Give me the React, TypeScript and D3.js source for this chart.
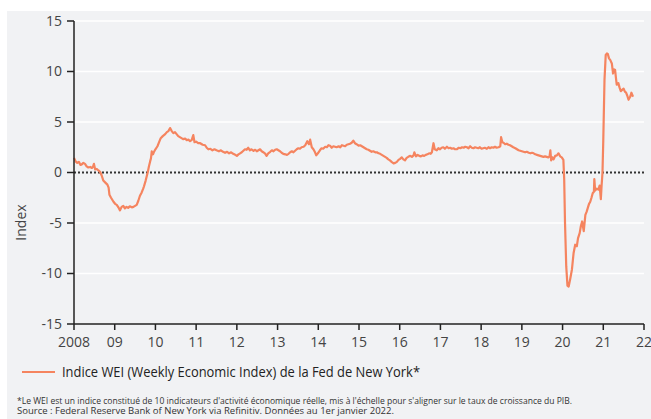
import React from "react";
import * as d3 from "d3";

const weeks: number[] = [
  2008.00, 2008.04, 2008.08, 2008.12, 2008.16, 2008.19, 2008.23, 2008.27, 2008.31, 2008.35,
  2008.40, 2008.44, 2008.47, 2008.49, 2008.52, 2008.56, 2008.60, 2008.64, 2008.68, 2008.72,
  2008.77, 2008.82, 2008.85, 2008.87, 2008.91, 2008.94, 2008.97, 2009.01, 2009.05, 2009.09,
  2009.13, 2009.17, 2009.21, 2009.25, 2009.29, 2009.33, 2009.37, 2009.42, 2009.46, 2009.50,
  2009.54, 2009.58, 2009.62, 2009.66, 2009.70, 2009.72, 2009.76, 2009.81, 2009.84, 2009.87,
  2009.89, 2009.91, 2009.94, 2009.96, 2010.00, 2010.05, 2010.09, 2010.13, 2010.18, 2010.24,
  2010.28, 2010.32, 2010.36, 2010.40, 2010.44, 2010.48, 2010.52, 2010.56, 2010.60, 2010.64,
  2010.68, 2010.73, 2010.77, 2010.81, 2010.85, 2010.89, 2010.93, 2010.96, 2011.00, 2011.05,
  2011.10, 2011.16, 2011.22, 2011.26, 2011.30, 2011.35, 2011.40, 2011.45, 2011.50, 2011.56,
  2011.61, 2011.66, 2011.71, 2011.76, 2011.81, 2011.86, 2011.91, 2011.96, 2012.00, 2012.04,
  2012.08, 2012.12, 2012.16, 2012.20, 2012.24, 2012.28, 2012.32, 2012.36, 2012.41, 2012.45,
  2012.49, 2012.53, 2012.57, 2012.61, 2012.65, 2012.69, 2012.73, 2012.77, 2012.82, 2012.86,
  2012.90, 2012.94, 2012.98, 2013.02, 2013.06, 2013.10, 2013.14, 2013.19, 2013.23, 2013.27,
  2013.31, 2013.35, 2013.39, 2013.43, 2013.47, 2013.51, 2013.55, 2013.59, 2013.64, 2013.68,
  2013.73, 2013.77, 2013.80, 2013.84, 2013.88, 2013.92, 2013.95, 2013.99, 2014.04, 2014.08,
  2014.12, 2014.17, 2014.21, 2014.25, 2014.29, 2014.33, 2014.37, 2014.41, 2014.45, 2014.50,
  2014.54, 2014.58, 2014.62, 2014.66, 2014.70, 2014.74, 2014.78, 2014.82, 2014.86, 2014.90,
  2014.94, 2014.99, 2015.03, 2015.07, 2015.11, 2015.15, 2015.19, 2015.23, 2015.27, 2015.31,
  2015.35, 2015.40, 2015.44, 2015.48, 2015.52, 2015.56, 2015.60, 2015.64, 2015.68, 2015.72,
  2015.76, 2015.80, 2015.85, 2015.89, 2015.93, 2015.97, 2016.01, 2016.05, 2016.09, 2016.13,
  2016.17, 2016.21, 2016.26, 2016.30, 2016.34, 2016.36, 2016.40, 2016.44, 2016.48, 2016.52,
  2016.56, 2016.60, 2016.64, 2016.68, 2016.72, 2016.76, 2016.79, 2016.83, 2016.86, 2016.91,
  2016.95, 2016.99, 2017.03, 2017.07, 2017.11, 2017.16, 2017.20, 2017.24, 2017.28, 2017.32,
  2017.36, 2017.40, 2017.45, 2017.49, 2017.53, 2017.57, 2017.61, 2017.65, 2017.69, 2017.73,
  2017.77, 2017.81, 2017.85, 2017.89, 2017.93, 2017.97, 2018.01, 2018.05, 2018.09, 2018.14,
  2018.18, 2018.22, 2018.26, 2018.30, 2018.34, 2018.38, 2018.43, 2018.47, 2018.49, 2018.52,
  2018.55, 2018.59, 2018.63, 2018.67, 2018.71, 2018.75, 2018.79, 2018.84, 2018.88, 2018.92,
  2018.96, 2019.00, 2019.04, 2019.08, 2019.12, 2019.17, 2019.21, 2019.25, 2019.29, 2019.33,
  2019.37, 2019.41, 2019.45, 2019.49, 2019.53, 2019.57, 2019.61, 2019.65, 2019.68, 2019.70,
  2019.72, 2019.75, 2019.78, 2019.82, 2019.86, 2019.90, 2019.94, 2019.98, 2020.02, 2020.04,
  2020.06, 2020.09, 2020.12, 2020.15, 2020.19, 2020.23, 2020.27, 2020.31, 2020.35, 2020.38,
  2020.42, 2020.45, 2020.48, 2020.52, 2020.56, 2020.59, 2020.62, 2020.65, 2020.68, 2020.71,
  2020.74, 2020.77, 2020.78, 2020.80, 2020.84, 2020.88, 2020.91, 2020.94, 2020.96, 2020.98,
  2021.00, 2021.03, 2021.06, 2021.09, 2021.11, 2021.14, 2021.17, 2021.21, 2021.24, 2021.27,
  2021.29, 2021.31, 2021.33, 2021.37, 2021.40, 2021.43, 2021.47, 2021.50, 2021.53, 2021.56,
  2021.59, 2021.62, 2021.66, 2021.69, 2021.73,
];

const wei: number[] = [
  1.45, 1.1, 0.95, 1.05, 0.75, 0.8, 0.95, 0.85, 0.6, 0.5,
  0.55, 0.45, 0.6, 0.85, 0.3, 0.35, 0.2, 0.07, -0.3, -0.8,
  -1.0, -1.2, -1.5, -2.2, -2.5, -2.7, -2.9, -3.1, -3.2, -3.45,
  -3.75, -3.4, -3.3, -3.55, -3.4, -3.5, -3.35, -3.45, -3.4, -3.3,
  -3.2, -2.8, -2.3, -2.0, -1.6, -1.36, -0.8, 0.0, 0.6, 1.1,
  1.4, 2.1, 1.8, 2.0, 2.3, 2.6, 3.0, 3.4, 3.6, 3.8,
  4.0, 4.1, 4.4, 4.1, 3.9, 4.0, 3.8, 3.6, 3.5, 3.4,
  3.3, 3.35, 3.2, 3.25, 3.1, 3.2, 3.7, 3.0, 3.05, 2.9,
  2.9, 2.75, 2.7, 2.45, 2.3, 2.35, 2.2, 2.3, 2.2, 2.1,
  2.2, 2.05, 1.95, 2.05, 1.9, 2.0, 1.85, 1.75, 1.65, 1.8,
  1.9, 2.0, 2.15, 2.3, 2.25, 2.45, 2.2, 2.3, 2.15, 2.25,
  2.1, 2.2, 2.3, 2.1, 2.0, 1.9, 1.65, 1.9, 2.05, 2.2,
  2.1, 2.25, 2.3, 2.2, 2.1, 1.95, 1.85, 1.8, 1.75, 1.85,
  2.0, 2.1, 2.0, 2.15, 2.3, 2.4, 2.35, 2.5, 2.55, 2.7,
  3.1, 2.8, 3.25, 2.5, 2.3, 2.0, 1.7, 1.9, 2.2, 2.4,
  2.35, 2.55, 2.5, 2.7, 2.65, 2.45, 2.6, 2.55, 2.5, 2.6,
  2.5, 2.7, 2.65, 2.6, 2.75, 2.8, 2.85, 2.95, 3.15, 2.9,
  2.8, 2.65, 2.7, 2.6, 2.5, 2.4, 2.3, 2.25, 2.15, 2.05,
  2.1, 2.0, 2.0, 1.9, 1.85, 1.75, 1.65, 1.55, 1.45, 1.3,
  1.2, 1.05, 0.9, 0.95, 1.05, 1.25, 1.35, 1.5, 1.3, 1.2,
  1.45, 1.55, 1.65, 1.55, 1.7, 2.0, 1.6, 1.75, 1.65, 1.6,
  1.7, 1.65, 1.75, 1.8, 1.9, 1.85, 2.0, 2.9, 2.3, 2.2,
  2.4, 2.3, 2.45, 2.5, 2.35, 2.55, 2.4, 2.45, 2.35, 2.4,
  2.3, 2.3, 2.45, 2.4, 2.5, 2.45, 2.55, 2.5, 2.4, 2.6,
  2.45, 2.4, 2.5, 2.45, 2.4, 2.5, 2.35, 2.4, 2.45, 2.35,
  2.5, 2.4, 2.5, 2.45, 2.55, 2.45, 2.5, 2.6, 3.5, 3.0,
  2.95, 2.8, 2.85, 2.75, 2.7, 2.6, 2.5, 2.4, 2.3, 2.2,
  2.15, 2.1, 2.05, 2.0, 2.05, 1.95, 1.9, 1.95, 1.9, 1.8,
  1.75, 1.7, 1.65, 1.6, 1.55, 1.6, 1.55, 1.5, 1.6, 2.2,
  1.2, 1.5, 1.3, 1.65, 1.7, 1.9, 1.6, 1.5, 1.25, -0.7,
  -5.0, -9.3, -11.2, -11.3, -10.5, -9.6, -8.0, -7.15, -7.3, -6.5,
  -6.0, -5.3, -4.85, -5.8, -4.2, -3.9, -3.5, -3.1, -2.9, -2.5,
  -2.05, -1.9, -0.65, -1.8, -1.6, -1.7, -1.3, -2.65, -1.2, -0.05,
  3.2, 9.2, 11.65, 11.8, 11.75, 11.3, 11.15, 10.8, 9.8, 10.2,
  10.15, 9.4, 8.7, 8.85, 8.4, 8.05, 8.2, 8.3, 8.0, 7.9,
  7.6, 7.2, 7.5, 7.9, 7.5,
];

const yearTicks: number[] = [2008, 2009, 2010, 2011, 2012, 2013, 2014, 2015, 2016, 2017, 2018, 2019, 2020, 2021, 2022];
const yearLabels: string[] = ["2008", "09", "10", "11", "12", "13", "14", "15", "16", "17", "18", "19", "20", "21", "22"];
const valueTicks: number[] = [15, 10, 5, 0, -5, -10, -15];

const legendLabel = "Indice WEI (Weekly Economic Index) de la Fed de New York*";
const note1 = "*Le WEI est un indice constitué de 10 indicateurs d'activité économique réelle, mis à l'échelle pour s'aligner sur le taux de croissance du PIB.";
const note2 = "Source : Federal Reserve Bank of New York via Refinitiv. Données au 1er janvier 2022.";

const W = 651;
const H = 419;
const FONT = "'Open Sans', 'Noto Sans', sans-serif";
const LINE = "#f5845f";

export default function App() {
  const x = d3.scaleLinear().domain([2008, 2022]).range([74, 644]);
  const y = d3.scaleLinear().domain([-15, 15]).range([324, 21]);
  const pts = weeks.map((w, i) => [w, wei[i]] as [number, number]);
  const line = d3.line<[number, number]>().x(d => x(d[0])).y(d => y(d[1]));

  return (
    <svg width={W} height={H} style={{ position: "absolute", left: 0, top: 0 }} fontFamily={FONT}>
      <rect x={0} y={0} width={W} height={H} fill="#ffffff" />
      <rect x={7} y={11} width={W - 7} height={H - 11} fill="#f1f2f4" />
      {valueTicks.filter(v => v !== 0 && v !== -15).map(v => (
        <line key={"g" + v} x1={x(2008)} x2={x(2022)} y1={y(v)} y2={y(v)} stroke="#ffffff" strokeWidth={1.5} />
      ))}
      <line x1={x(2008)} x2={x(2022)} y1={y(0)} y2={y(0)} stroke="#333" strokeWidth={2} strokeDasharray="2,2" />
      <path d={line(pts) || ""} fill="none" stroke={LINE} strokeWidth={2.2} strokeLinejoin="round" />
      <line x1={x(2008)} x2={x(2008)} y1={y(15)} y2={y(-15)} stroke="#222" strokeWidth={1.5} />
      <line x1={x(2008)} x2={x(2022)} y1={y(-15)} y2={y(-15)} stroke="#222" strokeWidth={1.5} />
      {valueTicks.map(v => (
        <g key={"yt" + v}>
          <line x1={x(2008) - 7} x2={x(2008)} y1={y(v)} y2={y(v)} stroke="#222" strokeWidth={1.5} />
          <text x={x(2008) - 12} y={y(v)} dy="0.35em" textAnchor="end" fontSize={14} fill="#444">{v}</text>
        </g>
      ))}
      {yearTicks.map((t, i) => (
        <g key={"xt" + t}>
          <line x1={x(t)} x2={x(t)} y1={y(-15)} y2={y(-15) + 6} stroke="#222" strokeWidth={1.5} />
          <text x={x(t)} y={347} textAnchor="middle" fontSize={14} fill="#444">{yearLabels[i]}</text>
        </g>
      ))}
      <text transform="translate(26,222.5) rotate(-90)" textAnchor="middle" fontSize={14} fill="#444">Index</text>
      <line x1={22} x2={55} y1={372} y2={372} stroke={LINE} strokeWidth={2} />
      <text x={62} y={376.5} fontSize={14} fill="#222" textLength={358} lengthAdjust="spacingAndGlyphs">{legendLabel}</text>
      <text x={17} y={404} fontSize={9.5} fill="#333" textLength={555} lengthAdjust="spacingAndGlyphs">{note1}</text>
      <text x={17} y={413.5} fontSize={9.5} fill="#333" textLength={377} lengthAdjust="spacingAndGlyphs">{note2}</text>
    </svg>
  );
}
